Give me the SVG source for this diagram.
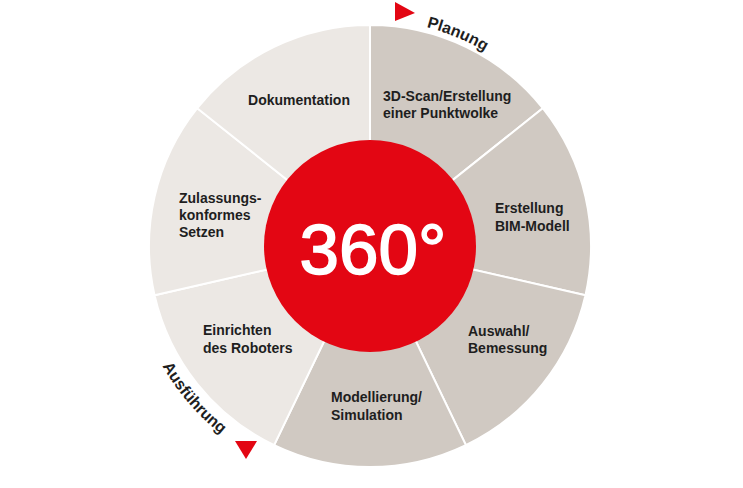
<svg xmlns="http://www.w3.org/2000/svg" width="743" height="488" viewBox="0 0 743 488">
<style>
.dark{fill:#d0c9c2;stroke:#fff;stroke-width:2}
.light{fill:#ece8e4;stroke:#fff;stroke-width:2}
.lbl{font-family:"Liberation Sans",Arial,sans-serif;font-weight:bold;font-size:14px;fill:#1e1e1e}
.arc{font-family:"Liberation Sans",Arial,sans-serif;font-weight:bold;font-size:16px;fill:#1e1e1e}
.tri{fill:#e30613}
</style>
<defs>
<path id="pPlan" d="M 426.6 27.2 A 226 226 0 0 1 529.8 86.2" fill="none"/>
<path id="pAus" d="M 162.2 366 A 240 240 0 0 0 287.9 471.5" fill="none"/>
</defs>
<g id="ring">
<path id="seg-scan" class="dark" d="M370 246 L370 25 A221 221 0 0 1 542.78 108.21 Z"/>
<path id="seg-bim" class="dark" d="M370 246 L542.78 108.21 A221 221 0 0 1 585.46 295.18 Z"/>
<path id="seg-auswahl" class="dark" d="M370 246 L585.46 295.18 A221 221 0 0 1 465.89 445.11 Z"/>
<path id="seg-modell" class="dark" d="M370 246 L465.89 445.11 A221 221 0 0 1 274.11 445.11 Z"/>
<path id="seg-einrichten" class="light" d="M370 246 L274.11 445.11 A221 221 0 0 1 154.54 295.18 Z"/>
<path id="seg-zulassung" class="light" d="M370 246 L154.54 295.18 A221 221 0 0 1 197.22 108.21 Z"/>
<path id="seg-doku" class="light" d="M370 246 L197.22 108.21 A221 221 0 0 1 370 25 Z"/>
</g>
<g id="center">
<circle cx="370" cy="246" r="106" fill="#e30613"/>
<text x="373" y="274" text-anchor="middle" font-family="'Liberation Sans',Arial,sans-serif" font-size="71" fill="#fff" stroke="#fff" stroke-width="1.6">360°</text>
</g>
<g id="n-scan"><text class="lbl" x="383" y="101">3D-Scan/Erstellung</text><text class="lbl" x="383" y="118">einer Punktwolke</text></g>
<g id="n-bim"><text class="lbl" x="495" y="213">Erstellung</text><text class="lbl" x="495" y="231">BIM-Modell</text></g>
<g id="n-auswahl"><text class="lbl" x="468" y="336">Auswahl/</text><text class="lbl" x="468" y="353">Bemessung</text></g>
<g id="n-modell"><text class="lbl" x="331" y="402">Modellierung/</text><text class="lbl" x="331" y="420">Simulation</text></g>
<g id="n-einrichten"><text class="lbl" x="203" y="335">Einrichten</text><text class="lbl" x="203" y="353">des Roboters</text></g>
<g id="n-zulassung"><text class="lbl" x="179" y="203">Zulassungs-</text><text class="lbl" x="179" y="220">konformes</text><text class="lbl" x="179" y="237">Setzen</text></g>
<g id="n-doku"><text class="lbl" x="299" y="105" text-anchor="middle">Dokumentation</text></g>
<g id="phases">
<polygon class="tri" points="395,2 395,21 415,13"/>
<text class="arc"><textPath href="#pPlan">Planung</textPath></text>
<polygon class="tri" points="235,441 257,441 246,459"/>
<text class="arc"><textPath href="#pAus">Ausführung</textPath></text>
</g>
</svg>
